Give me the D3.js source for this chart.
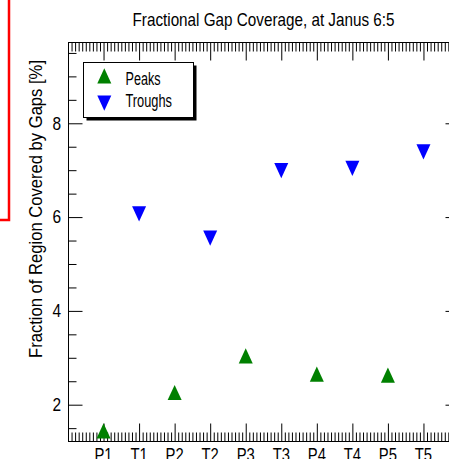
<!DOCTYPE html>
<html>
<head>
<meta charset="utf-8">
<script src="https://cdn.jsdelivr.net/npm/d3@7"></script>
<style>
  html, body { margin: 0; padding: 0; background: #fff; }
  svg { display: block; }
  text { font-family: "Liberation Sans", Arial, Helvetica, sans-serif; fill: #000; }
</style>
</head>
<body>
<svg id="chart" width="449" height="459"></svg>
<script>
// Category labels along the bottom axis (positions 1..10)
const categories = ["P1", "T1", "P2", "T2", "P3", "T3", "P4", "T4", "P5", "T5"];
// Peak and trough coverage values [%]
const peakLabels = ["P1", "P2", "P3", "P4", "P5"];
const peakValues = [1.44, 2.26, 3.04, 2.65, 2.63];
const troughLabels = ["T1", "T2", "T3", "T4", "T5"];
const troughValues = [6.07, 5.55, 6.99, 7.04, 7.39];
// Labelled y ticks
const yTickValues = [2, 4, 6, 8];
const legendLabels = ["Peaks", "Troughs"];

const svg = d3.select("#chart");
const plot = { left: 68, right: 459, top: 42, bottom: 441 };

const x = d3.scaleLinear().domain([0, categories.length + 1]).range([plot.left, plot.right]);
const y = d3.scaleLinear().domain([1.226, 9.733]).range([plot.bottom, plot.top]);
const xPos = label => x(categories.indexOf(label) + 1);

const green = "#008000", blue = "#0000ff";

// Red bracket line on the left edge
svg.append("path")
  .attr("d", "M9,0 V220 H0")
  .attr("fill", "none").attr("stroke", "#ff0000").attr("stroke-width", 2.5);

// Title
svg.append("text")
  .attr("x", 263.5).attr("y", 25.5)
  .attr("text-anchor", "middle")
  .attr("font-size", 18.5)
  .attr("textLength", 262).attr("lengthAdjust", "spacingAndGlyphs")
  .text("Fractional Gap Coverage, at Janus 6:5");

// Y axis label
svg.append("text")
  .attr("transform", "translate(42,209) rotate(-90)")
  .attr("text-anchor", "middle")
  .attr("font-size", 17.5)
  .attr("textLength", 298).attr("lengthAdjust", "spacingAndGlyphs")
  .text("Fraction of Region Covered by Gaps  [%]");

const g = svg.append("g");

// Plot frame
g.append("rect")
  .attr("x", plot.left + 0.5).attr("y", plot.top + 0.5)
  .attr("width", plot.right - plot.left).attr("height", plot.bottom - plot.top)
  .attr("fill", "none").attr("stroke", "#000").attr("stroke-width", 1);

// X ticks: majors at each category, minors every 0.1, on bottom and top
const xMinor = d3.range(1, (categories.length + 1) * 10).map(i => i / 10).filter(v => Math.abs(v - Math.round(v)) > 1e-6);
const xMajor = d3.range(1, categories.length + 1);
const xAxisBottom = d3.axisBottom(x).tickValues(xMajor).tickSize(-18).tickFormat("");
const xAxisBottomMinor = d3.axisBottom(x).tickValues(xMinor).tickSize(-9).tickFormat("");
const xAxisTop = d3.axisTop(x).tickValues(xMajor).tickSize(-18).tickFormat("");
const xAxisTopMinor = d3.axisTop(x).tickValues(xMinor).tickSize(-9).tickFormat("");

[[xAxisBottom, plot.bottom], [xAxisBottomMinor, plot.bottom], [xAxisTop, plot.top], [xAxisTopMinor, plot.top]]
  .forEach(([ax, ty]) => {
    const a = g.append("g").attr("transform", `translate(0,${ty + 0.5})`).call(ax);
    a.select(".domain").remove();
    a.selectAll("line").attr("stroke", "#000").attr("stroke-width", 1);
  });

// X tick labels (they run past the bottom edge of the figure)
const xLab = g.append("g");
categories.forEach((c, i) => {
  xLab.append("text")
    .attr("transform", `translate(${x(i + 1)},461) scale(0.8,1)`)
    .attr("text-anchor", "middle")
    .attr("font-size", 18.5)
    .text(c);
});

// Y ticks: majors at labelled values, minors every 0.5, on left and right
const yMinor = d3.range(3, 20).map(i => i / 2).filter(v => !yTickValues.includes(v));
const yAxisLeft = d3.axisLeft(y).tickValues(yTickValues).tickSize(-14).tickFormat("");
const yAxisLeftMinor = d3.axisLeft(y).tickValues(yMinor).tickSize(-8).tickFormat("");
const yAxisRight = d3.axisRight(y).tickValues(yTickValues).tickSize(-14).tickFormat("");
const yAxisRightMinor = d3.axisRight(y).tickValues(yMinor).tickSize(-8).tickFormat("");
[[yAxisLeft, plot.left], [yAxisLeftMinor, plot.left], [yAxisRight, plot.right], [yAxisRightMinor, plot.right]]
  .forEach(([ax, tx]) => {
    const a = g.append("g").attr("transform", `translate(${tx + 0.5},0)`).call(ax);
    a.select(".domain").remove();
    a.selectAll("line").attr("stroke", "#000").attr("stroke-width", 1);
  });

// Y tick labels
yTickValues.forEach(v => {
  g.append("text")
    .attr("transform", `translate(61,${y(v) + 6.3}) scale(0.86,1)`)
    .attr("text-anchor", "end")
    .attr("font-size", 18)
    .text(d3.format("d")(v));
});

// Triangle markers, pointing up for peaks and down for troughs
function triPath(cx, cy, up) {
  const hw = 7, hh = 7.6;
  return up
    ? `M${cx - hw},${cy + hh} L${cx + hw},${cy + hh} L${cx},${cy - hh} Z`
    : `M${cx - hw},${cy - hh} L${cx + hw},${cy - hh} L${cx},${cy + hh} Z`;
}

g.append("g").selectAll("path")
  .data(peakValues.map((v, i) => ({ label: peakLabels[i], value: v })))
  .join("path")
  .attr("d", d => triPath(xPos(d.label), y(d.value), true))
  .attr("fill", green);

g.append("g").selectAll("path")
  .data(troughValues.map((v, i) => ({ label: troughLabels[i], value: v })))
  .join("path")
  .attr("d", d => triPath(xPos(d.label), y(d.value), false))
  .attr("fill", blue);

// Legend with drop shadow
const leg = svg.append("g");
leg.append("rect")
  .attr("x", 86.5).attr("y", 65.5).attr("width", 110).attr("height", 55)
  .attr("fill", "#000");
leg.append("rect")
  .attr("x", 83.5).attr("y", 62.5).attr("width", 110).attr("height", 55)
  .attr("fill", "#fff").attr("stroke", "#000").attr("stroke-width", 1);
leg.append("path").attr("d", triPath(104.3, 75.8, true)).attr("fill", green);
leg.append("path").attr("d", triPath(104.3, 103.2, false)).attr("fill", blue);
leg.append("text")
  .attr("x", 125.5).attr("y", 84.5)
  .attr("font-size", 17.5)
  .attr("textLength", 35).attr("lengthAdjust", "spacingAndGlyphs")
  .text(legendLabels[0]);
leg.append("text")
  .attr("x", 125.5).attr("y", 106.5)
  .attr("font-size", 17.5)
  .attr("textLength", 46.5).attr("lengthAdjust", "spacingAndGlyphs")
  .text(legendLabels[1]);
</script>
</body>
</html>
